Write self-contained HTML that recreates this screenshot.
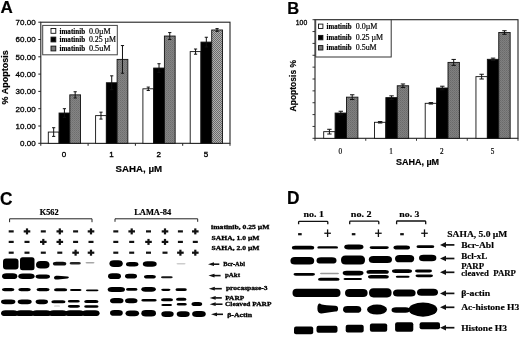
<!DOCTYPE html>
<html><head><meta charset="utf-8"><style>
html,body{margin:0;padding:0;background:#fff;}
svg{display:block;filter:blur(0.3px);}
text{stroke:#000;stroke-width:0.18px;paint-order:stroke;}
</style></head><body>
<svg width="520" height="337" viewBox="0 0 520 337">
<defs><filter id="b3" filterUnits="userSpaceOnUse" x="0" y="0" width="520" height="337"><feGaussianBlur stdDeviation="0.3"/></filter><filter id="b4" filterUnits="userSpaceOnUse" x="0" y="0" width="520" height="337"><feGaussianBlur stdDeviation="0.4"/></filter><filter id="b5" filterUnits="userSpaceOnUse" x="0" y="0" width="520" height="337"><feGaussianBlur stdDeviation="0.5"/></filter><filter id="b6" filterUnits="userSpaceOnUse" x="0" y="0" width="520" height="337"><feGaussianBlur stdDeviation="0.6"/></filter><filter id="b7" filterUnits="userSpaceOnUse" x="0" y="0" width="520" height="337"><feGaussianBlur stdDeviation="0.7"/></filter><filter id="b8" filterUnits="userSpaceOnUse" x="0" y="0" width="520" height="337"><feGaussianBlur stdDeviation="0.8"/></filter><filter id="b10" filterUnits="userSpaceOnUse" x="0" y="0" width="520" height="337"><feGaussianBlur stdDeviation="1.0"/></filter>
<pattern id="gA" width="2" height="2" patternUnits="userSpaceOnUse"><rect width="2" height="2" fill="#848484"/><rect width="1" height="1" fill="#6e6e6e"/><rect x="1" y="1" width="1" height="1" fill="#777"/></pattern>
<pattern id="gA2" width="2" height="2" patternUnits="userSpaceOnUse"><rect width="2" height="2" fill="#b0b0b0"/><rect width="1" height="1" fill="#6a6a6a"/><rect x="1" y="1" width="1" height="1" fill="#6a6a6a"/></pattern>
<pattern id="gB" width="2" height="2" patternUnits="userSpaceOnUse"><rect width="2" height="2" fill="#808080"/><rect width="1" height="1" fill="#6a6a6a"/><rect x="1" y="1" width="1" height="1" fill="#737373"/></pattern>
</defs>
<rect width="520" height="337" fill="#fff"/>
<text x="0.4" y="13.3" font-family='"Liberation Sans", sans-serif' font-size="17" font-weight="bold" text-anchor="start" >A</text>
<rect x="40.8" y="22.2" width="189.2" height="121.10000000000001" fill="none" stroke="#222" stroke-width="1.1"/>
<line x1="38.3" y1="143.30" x2="40.8" y2="143.30" stroke="#222" stroke-width="1"/>
<text x="35.6" y="146.20000000000002" font-family='"Liberation Sans", sans-serif' font-size="8" font-weight="normal" text-anchor="end" style="stroke-width:0.3px">0.00</text>
<line x1="38.3" y1="126.00" x2="40.8" y2="126.00" stroke="#222" stroke-width="1"/>
<text x="35.6" y="128.9" font-family='"Liberation Sans", sans-serif' font-size="8" font-weight="normal" text-anchor="end" style="stroke-width:0.3px">10.00</text>
<line x1="38.3" y1="108.70" x2="40.8" y2="108.70" stroke="#222" stroke-width="1"/>
<text x="35.6" y="111.60000000000002" font-family='"Liberation Sans", sans-serif' font-size="8" font-weight="normal" text-anchor="end" style="stroke-width:0.3px">20.00</text>
<line x1="38.3" y1="91.40" x2="40.8" y2="91.40" stroke="#222" stroke-width="1"/>
<text x="35.6" y="94.30000000000001" font-family='"Liberation Sans", sans-serif' font-size="8" font-weight="normal" text-anchor="end" style="stroke-width:0.3px">30.00</text>
<line x1="38.3" y1="74.10" x2="40.8" y2="74.10" stroke="#222" stroke-width="1"/>
<text x="35.6" y="77.00000000000001" font-family='"Liberation Sans", sans-serif' font-size="8" font-weight="normal" text-anchor="end" style="stroke-width:0.3px">40.00</text>
<line x1="38.3" y1="56.80" x2="40.8" y2="56.80" stroke="#222" stroke-width="1"/>
<text x="35.6" y="59.699999999999996" font-family='"Liberation Sans", sans-serif' font-size="8" font-weight="normal" text-anchor="end" style="stroke-width:0.3px">50.00</text>
<line x1="38.3" y1="39.50" x2="40.8" y2="39.50" stroke="#222" stroke-width="1"/>
<text x="35.6" y="42.4" font-family='"Liberation Sans", sans-serif' font-size="8" font-weight="normal" text-anchor="end" style="stroke-width:0.3px">60.00</text>
<line x1="38.3" y1="22.20" x2="40.8" y2="22.20" stroke="#222" stroke-width="1"/>
<text x="35.6" y="25.1" font-family='"Liberation Sans", sans-serif' font-size="8" font-weight="normal" text-anchor="end" style="stroke-width:0.3px">70.00</text>
<line x1="40.8" y1="143.3" x2="40.8" y2="145.8" stroke="#222" stroke-width="1"/>
<line x1="88.1" y1="143.3" x2="88.1" y2="145.8" stroke="#222" stroke-width="1"/>
<line x1="135.39999999999998" y1="143.3" x2="135.39999999999998" y2="145.8" stroke="#222" stroke-width="1"/>
<line x1="182.7" y1="143.3" x2="182.7" y2="145.8" stroke="#222" stroke-width="1"/>
<line x1="230.0" y1="143.3" x2="230.0" y2="145.8" stroke="#222" stroke-width="1"/>
<rect x="48.30" y="132.06" width="10.75" height="11.25" fill="#fff" stroke="#111" stroke-width="0.9"/>
<path d="M53.67,127.73V136.38M52.07,127.73h3.2M52.07,136.38h3.2" stroke="#111" stroke-width="1" fill="none"/>
<rect x="59.05" y="113.03" width="10.75" height="30.28" fill="#000" stroke="#111" stroke-width="0.9"/>
<path d="M64.42,108.70V117.35M62.82,108.70h3.2M62.82,117.35h3.2" stroke="#111" stroke-width="1" fill="none"/>
<rect x="69.80" y="94.86" width="10.75" height="48.44" fill="url(#gA)" stroke="#111" stroke-width="0.9"/>
<path d="M75.17,91.75V97.97M73.58,91.75h3.2M73.58,97.97h3.2" stroke="#111" stroke-width="1" fill="none"/>
<rect x="95.60" y="115.62" width="10.75" height="27.68" fill="#fff" stroke="#111" stroke-width="0.9"/>
<path d="M100.97,112.16V119.08M99.38,112.16h3.2M99.38,119.08h3.2" stroke="#111" stroke-width="1" fill="none"/>
<rect x="106.35" y="82.75" width="10.75" height="60.55" fill="#000" stroke="#111" stroke-width="0.9"/>
<path d="M111.72,75.83V89.67M110.12,75.83h3.2M110.12,89.67h3.2" stroke="#111" stroke-width="1" fill="none"/>
<rect x="117.10" y="59.39" width="10.75" height="83.91" fill="url(#gA)" stroke="#111" stroke-width="0.9"/>
<path d="M122.47,45.56V73.23M120.88,45.56h3.2M120.88,73.23h3.2" stroke="#111" stroke-width="1" fill="none"/>
<rect x="142.90" y="88.81" width="10.75" height="54.50" fill="#fff" stroke="#111" stroke-width="0.9"/>
<path d="M148.27,87.08V90.53M146.67,87.08h3.2M146.67,90.53h3.2" stroke="#111" stroke-width="1" fill="none"/>
<rect x="153.65" y="68.05" width="10.75" height="75.26" fill="#000" stroke="#111" stroke-width="0.9"/>
<path d="M159.02,63.72V72.37M157.42,63.72h3.2M157.42,72.37h3.2" stroke="#111" stroke-width="1" fill="none"/>
<rect x="164.40" y="36.04" width="10.75" height="107.26" fill="url(#gA)" stroke="#111" stroke-width="0.9"/>
<path d="M169.77,32.58V39.50M168.17,32.58h3.2M168.17,39.50h3.2" stroke="#111" stroke-width="1" fill="none"/>
<rect x="190.20" y="51.61" width="10.75" height="91.69" fill="#fff" stroke="#111" stroke-width="0.9"/>
<path d="M195.57,49.02V54.20M193.97,49.02h3.2M193.97,54.20h3.2" stroke="#111" stroke-width="1" fill="none"/>
<rect x="200.95" y="42.09" width="10.75" height="101.21" fill="#000" stroke="#111" stroke-width="0.9"/>
<path d="M206.32,37.25V46.94M204.72,37.25h3.2M204.72,46.94h3.2" stroke="#111" stroke-width="1" fill="none"/>
<rect x="211.70" y="29.98" width="10.75" height="113.32" fill="url(#gA2)" stroke="#111" stroke-width="0.9"/>
<path d="M217.07,28.60V31.37M215.47,28.60h3.2M215.47,31.37h3.2" stroke="#111" stroke-width="1" fill="none"/>
<rect x="42.7" y="25.4" width="74.6" height="29.4" fill="#fff" stroke="#444" stroke-width="1"/>
<rect x="51" y="28.5" width="4.8" height="4.8" fill="#fff" stroke="#111" stroke-width="0.9"/>
<text x="59.5" y="33.6" font-family='"Liberation Serif", serif' font-size="7.6" font-weight="bold" text-anchor="start"  textLength="25.6" lengthAdjust="spacingAndGlyphs">imatinib</text>
<text x="88.9" y="33.699999999999996" font-family='"Liberation Serif", serif' font-size="8.0" font-weight="normal" text-anchor="start"  textLength="21.8" lengthAdjust="spacingAndGlyphs">0.0&#181;M</text>
<rect x="51" y="37.1" width="4.8" height="4.8" fill="#000" stroke="#111" stroke-width="0.9"/>
<text x="59.5" y="42.2" font-family='"Liberation Serif", serif' font-size="7.6" font-weight="bold" text-anchor="start"  textLength="25.6" lengthAdjust="spacingAndGlyphs">imatinib</text>
<text x="88.9" y="42.3" font-family='"Liberation Serif", serif' font-size="8.0" font-weight="normal" text-anchor="start"  textLength="27.2" lengthAdjust="spacingAndGlyphs">0.25 &#181;M</text>
<rect x="51" y="46.1" width="4.8" height="4.8" fill="#777" stroke="#111" stroke-width="0.9"/>
<text x="59.5" y="51.2" font-family='"Liberation Serif", serif' font-size="7.6" font-weight="bold" text-anchor="start"  textLength="25.6" lengthAdjust="spacingAndGlyphs">imatinib</text>
<text x="88.9" y="51.3" font-family='"Liberation Serif", serif' font-size="8.0" font-weight="normal" text-anchor="start"  textLength="21.8" lengthAdjust="spacingAndGlyphs">0.5uM</text>
<text x="64.1" y="157" font-family='"Liberation Sans", sans-serif' font-size="8" font-weight="normal" text-anchor="middle" style="stroke-width:0.35px">0</text>
<text x="111.39999999999999" y="157" font-family='"Liberation Sans", sans-serif' font-size="8" font-weight="normal" text-anchor="middle" style="stroke-width:0.35px">1</text>
<text x="158.7" y="157" font-family='"Liberation Sans", sans-serif' font-size="8" font-weight="normal" text-anchor="middle" style="stroke-width:0.35px">2</text>
<text x="206.0" y="157" font-family='"Liberation Sans", sans-serif' font-size="8" font-weight="normal" text-anchor="middle" style="stroke-width:0.35px">5</text>
<text x="138.8" y="171.8" font-family='"Liberation Sans", sans-serif' font-size="9.7" font-weight="bold" text-anchor="middle" >SAHA, &#181;M</text>
<text transform="translate(8.3,77.4) rotate(-90)" font-family='"Liberation Sans", sans-serif' font-size="9" font-weight="bold" text-anchor="middle">% Apoptosis</text>
<text x="287.2" y="13.6" font-family='"Liberation Sans", sans-serif' font-size="16.5" font-weight="bold" text-anchor="start" >B</text>
<rect x="315" y="19.7" width="203" height="118.60000000000001" fill="none" stroke="#222" stroke-width="1.1"/>
<line x1="312.5" y1="138.30" x2="315" y2="138.30" stroke="#222" stroke-width="0.9"/>
<line x1="312.5" y1="126.44" x2="315" y2="126.44" stroke="#222" stroke-width="0.9"/>
<line x1="312.5" y1="114.58" x2="315" y2="114.58" stroke="#222" stroke-width="0.9"/>
<line x1="312.5" y1="102.72" x2="315" y2="102.72" stroke="#222" stroke-width="0.9"/>
<line x1="312.5" y1="90.86" x2="315" y2="90.86" stroke="#222" stroke-width="0.9"/>
<line x1="312.5" y1="79.00" x2="315" y2="79.00" stroke="#222" stroke-width="0.9"/>
<line x1="312.5" y1="67.14" x2="315" y2="67.14" stroke="#222" stroke-width="0.9"/>
<line x1="312.5" y1="55.28" x2="315" y2="55.28" stroke="#222" stroke-width="0.9"/>
<line x1="312.5" y1="43.42" x2="315" y2="43.42" stroke="#222" stroke-width="0.9"/>
<line x1="312.5" y1="31.56" x2="315" y2="31.56" stroke="#222" stroke-width="0.9"/>
<line x1="312.5" y1="19.70" x2="315" y2="19.70" stroke="#222" stroke-width="0.9"/>
<text x="307.2" y="24.8" font-family='"Liberation Sans", sans-serif' font-size="6.8" font-weight="normal" text-anchor="end" style="stroke-width:0.3px">100</text>
<line x1="315.00" y1="138.3" x2="315.00" y2="140.8" stroke="#222" stroke-width="0.9"/>
<line x1="365.75" y1="138.3" x2="365.75" y2="140.8" stroke="#222" stroke-width="0.9"/>
<line x1="416.50" y1="138.3" x2="416.50" y2="140.8" stroke="#222" stroke-width="0.9"/>
<line x1="467.25" y1="138.3" x2="467.25" y2="140.8" stroke="#222" stroke-width="0.9"/>
<line x1="518.00" y1="138.3" x2="518.00" y2="140.8" stroke="#222" stroke-width="0.9"/>
<rect x="323.70" y="131.66" width="11.4" height="6.64" fill="#fff" stroke="#111" stroke-width="0.9"/>
<path d="M329.40,129.29V134.03M327.20,129.29h4.4M327.20,134.03h4.4" stroke="#111" stroke-width="1" fill="none"/>
<rect x="335.10" y="113.04" width="11.4" height="25.26" fill="#000" stroke="#111" stroke-width="0.9"/>
<path d="M340.80,111.26V114.82M338.60,111.26h4.4M338.60,114.82h4.4" stroke="#111" stroke-width="1" fill="none"/>
<rect x="346.50" y="97.15" width="11.4" height="41.15" fill="url(#gB)" stroke="#111" stroke-width="0.9"/>
<path d="M352.20,94.77V99.52M350.00,94.77h4.4M350.00,99.52h4.4" stroke="#111" stroke-width="1" fill="none"/>
<rect x="374.45" y="122.29" width="11.4" height="16.01" fill="#fff" stroke="#111" stroke-width="0.9"/>
<path d="M380.15,121.58V123.00M377.95,121.58h4.4M377.95,123.00h4.4" stroke="#111" stroke-width="1" fill="none"/>
<rect x="385.85" y="97.62" width="11.4" height="40.68" fill="#000" stroke="#111" stroke-width="0.9"/>
<path d="M391.55,95.84V99.40M389.35,95.84h4.4M389.35,99.40h4.4" stroke="#111" stroke-width="1" fill="none"/>
<rect x="397.25" y="85.76" width="11.4" height="52.54" fill="url(#gB)" stroke="#111" stroke-width="0.9"/>
<path d="M402.95,83.98V87.54M400.75,83.98h4.4M400.75,87.54h4.4" stroke="#111" stroke-width="1" fill="none"/>
<rect x="425.20" y="103.31" width="11.4" height="34.99" fill="#fff" stroke="#111" stroke-width="0.9"/>
<path d="M430.90,102.60V104.02M428.70,102.60h4.4M428.70,104.02h4.4" stroke="#111" stroke-width="1" fill="none"/>
<rect x="436.60" y="88.01" width="11.4" height="50.29" fill="#000" stroke="#111" stroke-width="0.9"/>
<path d="M442.30,86.23V89.79M440.10,86.23h4.4M440.10,89.79h4.4" stroke="#111" stroke-width="1" fill="none"/>
<rect x="448.00" y="62.40" width="11.4" height="75.90" fill="url(#gB)" stroke="#111" stroke-width="0.9"/>
<path d="M453.70,59.43V65.36M451.50,59.43h4.4M451.50,65.36h4.4" stroke="#111" stroke-width="1" fill="none"/>
<rect x="475.95" y="76.63" width="11.4" height="61.67" fill="#fff" stroke="#111" stroke-width="0.9"/>
<path d="M481.65,74.26V79.00M479.45,74.26h4.4M479.45,79.00h4.4" stroke="#111" stroke-width="1" fill="none"/>
<rect x="487.35" y="59.31" width="11.4" height="78.99" fill="#000" stroke="#111" stroke-width="0.9"/>
<path d="M493.05,58.13V60.50M490.85,58.13h4.4M490.85,60.50h4.4" stroke="#111" stroke-width="1" fill="none"/>
<rect x="498.75" y="32.51" width="11.4" height="105.79" fill="url(#gB)" stroke="#111" stroke-width="0.9"/>
<path d="M504.45,30.73V34.29M502.25,30.73h4.4M502.25,34.29h4.4" stroke="#111" stroke-width="1" fill="none"/>
<rect x="315.7" y="19.8" width="75.5" height="37.2" fill="#fff" stroke="#333" stroke-width="1"/>
<rect x="318.5" y="24.1" width="4.4" height="4.4" fill="#fff" stroke="#111" stroke-width="0.9"/>
<text x="326.6" y="28.8" font-family='"Liberation Serif", serif' font-size="7.4" font-weight="bold" text-anchor="start"  textLength="24.9" lengthAdjust="spacingAndGlyphs">imatinib</text>
<text x="355.7" y="28.8" font-family='"Liberation Serif", serif' font-size="7.8" font-weight="normal" text-anchor="start"  textLength="21.7" lengthAdjust="spacingAndGlyphs">0.0&#181;M</text>
<rect x="318.5" y="35.4" width="4.4" height="4.4" fill="#000" stroke="#111" stroke-width="0.9"/>
<text x="326.6" y="40.1" font-family='"Liberation Serif", serif' font-size="7.4" font-weight="bold" text-anchor="start"  textLength="24.9" lengthAdjust="spacingAndGlyphs">imatinib</text>
<text x="355.7" y="40.1" font-family='"Liberation Serif", serif' font-size="7.8" font-weight="normal" text-anchor="start"  textLength="27.5" lengthAdjust="spacingAndGlyphs">0.25 &#181;M</text>
<rect x="318.5" y="45.599999999999994" width="4.4" height="4.4" fill="#777" stroke="#111" stroke-width="0.9"/>
<text x="326.6" y="50.3" font-family='"Liberation Serif", serif' font-size="7.4" font-weight="bold" text-anchor="start"  textLength="24.9" lengthAdjust="spacingAndGlyphs">imatinib</text>
<text x="355.7" y="50.3" font-family='"Liberation Serif", serif' font-size="7.8" font-weight="normal" text-anchor="start"  textLength="21.0" lengthAdjust="spacingAndGlyphs">0.5uM</text>
<text x="340.375" y="153.5" font-family='"Liberation Serif", serif' font-size="7.2" font-weight="normal" text-anchor="middle" >0</text>
<text x="391.125" y="153.5" font-family='"Liberation Serif", serif' font-size="7.2" font-weight="normal" text-anchor="middle" >1</text>
<text x="441.875" y="153.5" font-family='"Liberation Serif", serif' font-size="7.2" font-weight="normal" text-anchor="middle" >2</text>
<text x="492.625" y="153.5" font-family='"Liberation Serif", serif' font-size="7.2" font-weight="normal" text-anchor="middle" >5</text>
<text x="417.5" y="164.8" font-family='"Liberation Sans", sans-serif' font-size="9" font-weight="bold" text-anchor="middle" >SAHA, &#181;M</text>
<text transform="translate(296.2,85.7) rotate(-90)" font-family='"Liberation Sans", sans-serif' font-size="8.5" font-weight="bold" text-anchor="middle">Apoptosis %</text>
<text transform="translate(-0.1,205.4) scale(0.93,1)" font-family='"Liberation Sans", sans-serif' font-size="18.6" font-weight="bold">C</text>
<text x="39.8" y="214.5" font-family='"Liberation Serif", serif' font-size="7.2" font-weight="bold" text-anchor="start"  textLength="18.8" lengthAdjust="spacingAndGlyphs">K562</text>
<text x="134.2" y="214.5" font-family='"Liberation Serif", serif' font-size="7.2" font-weight="bold" text-anchor="start"  textLength="37" lengthAdjust="spacingAndGlyphs">LAMA-84</text>
<path d="M9.6,222.2V218.8H92V222.2M115,221.8V218.8H197.7V221.8" stroke="#222" stroke-width="1" fill="none"/>
<rect x="8.70" y="230.30" width="5.0" height="2.2" fill="#111"/>
<rect x="113.30" y="230.30" width="5.0" height="2.2" fill="#111"/>
<rect x="23.70" y="230.30" width="6.6" height="2.2" fill="#111"/>
<rect x="25.90" y="228.40" width="2.2" height="6.0" fill="#111"/>
<rect x="128.40" y="230.30" width="6.6" height="2.2" fill="#111"/>
<rect x="130.60" y="228.40" width="2.2" height="6.0" fill="#111"/>
<rect x="40.80" y="230.30" width="5.0" height="2.2" fill="#111"/>
<rect x="146.00" y="230.30" width="5.0" height="2.2" fill="#111"/>
<rect x="56.50" y="230.30" width="6.6" height="2.2" fill="#111"/>
<rect x="58.70" y="228.40" width="2.2" height="6.0" fill="#111"/>
<rect x="161.70" y="230.30" width="6.6" height="2.2" fill="#111"/>
<rect x="163.90" y="228.40" width="2.2" height="6.0" fill="#111"/>
<rect x="73.10" y="230.30" width="5.0" height="2.2" fill="#111"/>
<rect x="177.90" y="230.30" width="5.0" height="2.2" fill="#111"/>
<rect x="87.70" y="230.30" width="6.6" height="2.2" fill="#111"/>
<rect x="89.90" y="228.40" width="2.2" height="6.0" fill="#111"/>
<rect x="192.00" y="230.30" width="6.6" height="2.2" fill="#111"/>
<rect x="194.20" y="228.40" width="2.2" height="6.0" fill="#111"/>
<rect x="8.70" y="240.80" width="5.0" height="2.2" fill="#111"/>
<rect x="113.30" y="240.80" width="5.0" height="2.2" fill="#111"/>
<rect x="24.50" y="240.80" width="5.0" height="2.2" fill="#111"/>
<rect x="129.20" y="240.80" width="5.0" height="2.2" fill="#111"/>
<rect x="40.00" y="240.80" width="6.6" height="2.2" fill="#111"/>
<rect x="42.20" y="238.90" width="2.2" height="6.0" fill="#111"/>
<rect x="145.20" y="240.80" width="6.6" height="2.2" fill="#111"/>
<rect x="147.40" y="238.90" width="2.2" height="6.0" fill="#111"/>
<rect x="56.50" y="240.80" width="6.6" height="2.2" fill="#111"/>
<rect x="58.70" y="238.90" width="2.2" height="6.0" fill="#111"/>
<rect x="161.70" y="240.80" width="6.6" height="2.2" fill="#111"/>
<rect x="163.90" y="238.90" width="2.2" height="6.0" fill="#111"/>
<rect x="73.10" y="240.80" width="5.0" height="2.2" fill="#111"/>
<rect x="177.90" y="240.80" width="5.0" height="2.2" fill="#111"/>
<rect x="88.50" y="240.80" width="5.0" height="2.2" fill="#111"/>
<rect x="192.80" y="240.80" width="5.0" height="2.2" fill="#111"/>
<rect x="8.70" y="251.60" width="5.0" height="2.2" fill="#111"/>
<rect x="113.30" y="251.60" width="5.0" height="2.2" fill="#111"/>
<rect x="24.50" y="251.60" width="5.0" height="2.2" fill="#111"/>
<rect x="129.20" y="251.60" width="5.0" height="2.2" fill="#111"/>
<rect x="40.80" y="251.60" width="5.0" height="2.2" fill="#111"/>
<rect x="146.00" y="251.60" width="5.0" height="2.2" fill="#111"/>
<rect x="57.30" y="251.60" width="5.0" height="2.2" fill="#111"/>
<rect x="162.50" y="251.60" width="5.0" height="2.2" fill="#111"/>
<rect x="72.30" y="251.60" width="6.6" height="2.2" fill="#111"/>
<rect x="74.50" y="249.70" width="2.2" height="6.0" fill="#111"/>
<rect x="177.10" y="251.60" width="6.6" height="2.2" fill="#111"/>
<rect x="179.30" y="249.70" width="2.2" height="6.0" fill="#111"/>
<rect x="87.70" y="251.60" width="6.6" height="2.2" fill="#111"/>
<rect x="89.90" y="249.70" width="2.2" height="6.0" fill="#111"/>
<rect x="192.00" y="251.60" width="6.6" height="2.2" fill="#111"/>
<rect x="194.20" y="249.70" width="2.2" height="6.0" fill="#111"/>
<text x="211.1" y="229.3" font-family='"Liberation Serif", serif' font-size="6.7" font-weight="bold" text-anchor="start" style="stroke-width:0.3px" textLength="58.4" lengthAdjust="spacingAndGlyphs">imatinib, 0.25 &#181;M</text>
<text x="211.5" y="239.8" font-family='"Liberation Serif", serif' font-size="6.7" font-weight="bold" text-anchor="start" style="stroke-width:0.3px" textLength="48" lengthAdjust="spacingAndGlyphs">SAHA, 1.0 &#181;M</text>
<text x="211.5" y="250.4" font-family='"Liberation Serif", serif' font-size="6.7" font-weight="bold" text-anchor="start" style="stroke-width:0.3px" textLength="48" lengthAdjust="spacingAndGlyphs">SAHA, 2.0 &#181;M</text>
<path d="M208,264.2l6,-1.9v3.8z" fill="#111"/>
<line x1="213.5" y1="264.2" x2="219.3" y2="264.2" stroke="#111" stroke-width="1.6"/>
<text x="223.2" y="266.4" font-family='"Liberation Serif", serif' font-size="6.5" font-weight="bold" text-anchor="start" style="stroke-width:0.3px" textLength="21.8" lengthAdjust="spacingAndGlyphs">Bcr-Abl</text>
<path d="M208.5,275.6l6,-1.9v3.8z" fill="#111"/>
<line x1="214.0" y1="275.6" x2="220.6" y2="275.6" stroke="#111" stroke-width="1.6"/>
<text x="224.9" y="277.4" font-family='"Liberation Serif", serif' font-size="6.5" font-weight="bold" text-anchor="start" style="stroke-width:0.3px" textLength="15.1" lengthAdjust="spacingAndGlyphs">pAkt</text>
<path d="M208.8,288.7l6,-1.9v3.8z" fill="#111"/>
<line x1="214.3" y1="288.7" x2="221.8" y2="288.7" stroke="#111" stroke-width="1.6"/>
<text x="225.9" y="290.4" font-family='"Liberation Serif", serif' font-size="6.5" font-weight="bold" text-anchor="start" style="stroke-width:0.3px" textLength="41.7" lengthAdjust="spacingAndGlyphs">procaspase-3</text>
<path d="M209.7,297.9l6,-1.9v3.8z" fill="#111"/>
<line x1="215.2" y1="297.9" x2="221.8" y2="297.9" stroke="#111" stroke-width="1.6"/>
<text x="225.2" y="299.7" font-family='"Liberation Serif", serif' font-size="6.5" font-weight="bold" text-anchor="start" style="stroke-width:0.3px" textLength="19" lengthAdjust="spacingAndGlyphs">PARP</text>
<path d="M209.7,304.2l6,-1.9v3.8z" fill="#111"/>
<line x1="215.2" y1="304.2" x2="222.5" y2="304.2" stroke="#111" stroke-width="1.6"/>
<text x="225.0" y="306.2" font-family='"Liberation Serif", serif' font-size="6.5" font-weight="bold" text-anchor="start" style="stroke-width:0.3px" textLength="46.4" lengthAdjust="spacingAndGlyphs">Cleaved PARP</text>
<path d="M211,314.3l6,-1.9v3.8z" fill="#111"/>
<line x1="216.5" y1="314.3" x2="223" y2="314.3" stroke="#111" stroke-width="1.6"/>
<text x="227.2" y="317.1" font-family='"Liberation Serif", serif' font-size="6.5" font-weight="bold" text-anchor="start" style="stroke-width:0.3px" textLength="24.9" lengthAdjust="spacingAndGlyphs">&#946;-Actin</text>
<text transform="translate(286.9,203.6) scale(0.93,1)" font-family='"Liberation Sans", sans-serif' font-size="18.6" font-weight="bold">D</text>
<text x="303.5" y="216.9" font-family='"Liberation Serif", serif' font-size="9.0" font-weight="bold" text-anchor="start"  textLength="20.5" lengthAdjust="spacingAndGlyphs">no. 1</text>
<text x="350.8" y="216.9" font-family='"Liberation Serif", serif' font-size="9.0" font-weight="bold" text-anchor="start"  textLength="20.8" lengthAdjust="spacingAndGlyphs">no. 2</text>
<text x="399.3" y="216.9" font-family='"Liberation Serif", serif' font-size="9.0" font-weight="bold" text-anchor="start"  textLength="20.2" lengthAdjust="spacingAndGlyphs">no. 3</text>
<path d="M298.6,224.2V222A0.8,0.8 0 0 1 299.4,221.3H327V221.3A0.8,0.8 0 0 1 327.8,222V224.2M349.7,224.2V222A0.8,0.8 0 0 1 350.5,221.2H378V221.2A0.8,0.8 0 0 1 378.8,222V224.2M396.6,224.2V221.8A0.8,0.8 0 0 1 397.4,221H425V221A0.8,0.8 0 0 1 425.7,221.8V224.2" stroke="#111" stroke-width="1.3" fill="none"/>
<rect x="298.10" y="233.1" width="3.6" height="2.2" fill="#111"/>
<rect x="324.30" y="232.6" width="6.6" height="1.3" fill="#111"/><rect x="326.95" y="229.4" width="1.3" height="7.6" fill="#111"/>
<rect x="351.80" y="233.1" width="3.6" height="2.2" fill="#111"/>
<rect x="375.10" y="232.6" width="6.6" height="1.3" fill="#111"/><rect x="377.75" y="229.4" width="1.3" height="7.6" fill="#111"/>
<rect x="400.20" y="233.1" width="3.6" height="2.2" fill="#111"/>
<rect x="421.20" y="232.6" width="6.6" height="1.3" fill="#111"/><rect x="423.85" y="229.4" width="1.3" height="7.6" fill="#111"/>
<text x="447.3" y="237.2" font-family='"Liberation Serif", serif' font-size="9.2" font-weight="bold" text-anchor="start"  textLength="60" lengthAdjust="spacingAndGlyphs">SAHA, 5.0 &#181;M</text>
<path d="M440,244.9l6,-2.8v5.6z" fill="#111"/>
<line x1="445.5" y1="244.9" x2="454.4" y2="244.9" stroke="#111" stroke-width="1.7"/>
<path d="M440,258.5l6,-2.8v5.6z" fill="#111"/>
<line x1="445.5" y1="258.5" x2="454.4" y2="258.5" stroke="#111" stroke-width="1.7"/>
<path d="M440,272.3l6,-2.8v5.6z" fill="#111"/>
<line x1="445.5" y1="272.3" x2="454.4" y2="272.3" stroke="#111" stroke-width="1.7"/>
<path d="M440,293.4l6,-2.8v5.6z" fill="#111"/>
<line x1="445.5" y1="293.4" x2="454.4" y2="293.4" stroke="#111" stroke-width="1.7"/>
<path d="M440,307.3l6,-2.8v5.6z" fill="#111"/>
<line x1="445.5" y1="307.3" x2="454.4" y2="307.3" stroke="#111" stroke-width="1.7"/>
<path d="M440,327.7l6,-2.8v5.6z" fill="#111"/>
<line x1="445.5" y1="327.7" x2="454.4" y2="327.7" stroke="#111" stroke-width="1.7"/>
<text x="461.2" y="247.9" font-family='"Liberation Serif", serif' font-size="9.2" font-weight="bold" text-anchor="start"  textLength="32.7" lengthAdjust="spacingAndGlyphs">Bcr-Abl</text>
<text x="461.2" y="259.3" font-family='"Liberation Serif", serif' font-size="9.2" font-weight="bold" text-anchor="start"  textLength="26.1" lengthAdjust="spacingAndGlyphs">Bcl-xL</text>
<text x="461.2" y="269.4" font-family='"Liberation Serif", serif' font-size="9.2" font-weight="bold" text-anchor="start"  textLength="22.9" lengthAdjust="spacingAndGlyphs">PARP</text>
<text x="461.2" y="275.9" font-family='"Liberation Serif", serif' font-size="9.2" font-weight="bold" text-anchor="start"  textLength="54.7" lengthAdjust="spacingAndGlyphs">cleaved&#160; PARP</text>
<text x="461.2" y="295.9" font-family='"Liberation Serif", serif' font-size="9.2" font-weight="bold" text-anchor="start"  textLength="29.1" lengthAdjust="spacingAndGlyphs">&#946;-actin</text>
<text x="461.2" y="310.1" font-family='"Liberation Serif", serif' font-size="9.2" font-weight="bold" text-anchor="start"  textLength="58" lengthAdjust="spacingAndGlyphs">Ac-histone H3</text>
<text x="461.2" y="330.7" font-family='"Liberation Serif", serif' font-size="9.2" font-weight="bold" text-anchor="start"  textLength="45.7" lengthAdjust="spacingAndGlyphs">Histone H3</text>
<g>
<rect x="3.0" y="258.6" width="15.5" height="11.0" rx="3.0" ry="3.0" fill="#000" fill-opacity="1.0" filter="url(#b7)"/>
<rect x="20.0" y="257.2" width="14.5" height="13.0" rx="2.5" ry="2.5" fill="#000" fill-opacity="1.0" filter="url(#b7)"/>
<path d="M36.00,264.80Q36.00,261.00 40.50,261.00H45.00Q49.50,261.00 49.50,264.80Q49.50,268.60 45.00,268.60H40.50Q36.00,268.60 36.00,264.80Z" fill="#000" fill-opacity="1.0" filter="url(#b7)"/>
<path d="M52.90,263.65Q52.90,261.70 56.22,261.70H62.98Q66.30,261.70 66.30,263.65Q66.30,265.60 62.98,265.60H56.22Q52.90,265.60 52.90,263.65Z" fill="#000" fill-opacity="0.95" filter="url(#b7)"/>
<path d="M69.60,263.20Q69.60,262.00 71.64,262.00H78.76Q80.80,262.00 80.80,263.20Q80.80,264.40 78.76,264.40H71.64Q69.60,264.40 69.60,263.20Z" fill="#000" fill-opacity="0.85" filter="url(#b7)"/>
<path d="M85.50,262.80Q85.50,262.00 86.86,262.00H93.14Q94.50,262.00 94.50,262.80Q94.50,263.60 93.14,263.60H86.86Q85.50,263.60 85.50,262.80Z" fill="#000" fill-opacity="0.35" filter="url(#b7)"/>
<path d="M2.00,276.15Q2.00,273.30 6.50,273.30H12.80Q17.30,273.30 17.30,276.15Q17.30,279.00 12.80,279.00H6.50Q2.00,279.00 2.00,276.15Z" fill="#000" fill-opacity="1.0" filter="url(#b7)"/>
<path d="M18.30,276.25Q18.30,273.50 22.80,273.50H30.10Q34.60,273.50 34.60,276.25Q34.60,279.00 30.10,279.00H22.80Q18.30,279.00 18.30,276.25Z" fill="#000" fill-opacity="1.0" filter="url(#b7)"/>
<path d="M35.60,276.55Q35.60,274.40 39.26,274.40H46.34Q50.00,274.40 50.00,276.55Q50.00,278.70 46.34,278.70H39.26Q35.60,278.70 35.60,276.55Z" fill="#000" fill-opacity="1.0" filter="url(#b7)"/>
<path d="M54,277.7C54,275.8 56,275.6 58,275.7L67.5,276.6C69.3,276.8 69.3,278.3 67.5,278.5L58,279.4C55.8,279.6 54,279.4 54,277.7Z" fill="#000" filter="url(#b6)"/>
<path d="M1.90,289.60Q1.90,287.90 4.79,287.90H11.51Q14.40,287.90 14.40,289.60Q14.40,291.30 11.51,291.30H4.79Q1.90,291.30 1.90,289.60Z" fill="#000" fill-opacity="1.0" filter="url(#b7)"/>
<path d="M18.30,289.60Q18.30,287.90 21.19,287.90H27.91Q30.80,287.90 30.80,289.60Q30.80,291.30 27.91,291.30H21.19Q18.30,291.30 18.30,289.60Z" fill="#000" fill-opacity="1.0" filter="url(#b7)"/>
<path d="M36.50,289.60Q36.50,287.90 39.39,287.90H46.71Q49.60,287.90 49.60,289.60Q49.60,291.30 46.71,291.30H39.39Q36.50,291.30 36.50,289.60Z" fill="#000" fill-opacity="1.0" filter="url(#b7)"/>
<path d="M54.00,289.80Q54.00,288.30 56.55,288.30H64.65Q67.20,288.30 67.20,289.80Q67.20,291.30 64.65,291.30H56.55Q54.00,291.30 54.00,289.80Z" fill="#000" fill-opacity="1.0" filter="url(#b7)"/>
<path d="M70.00,289.95Q70.00,288.90 71.79,288.90H79.71Q81.50,288.90 81.50,289.95Q81.50,291.00 79.71,291.00H71.79Q70.00,291.00 70.00,289.95Z" fill="#000" fill-opacity="1.0" filter="url(#b7)"/>
<path d="M85.90,290.35Q85.90,289.40 87.52,289.40H96.88Q98.50,289.40 98.50,290.35Q98.50,291.30 96.88,291.30H87.52Q85.90,291.30 85.90,290.35Z" fill="#000" fill-opacity="1.0" filter="url(#b7)"/>
<path d="M1.00,301.80Q1.00,299.40 5.08,299.40H11.32Q15.40,299.40 15.40,301.80Q15.40,304.20 11.32,304.20H5.08Q1.00,304.20 1.00,301.80Z" fill="#000" fill-opacity="1.0" filter="url(#b7)"/>
<path d="M17.70,301.80Q17.70,299.40 21.78,299.40H27.62Q31.70,299.40 31.70,301.80Q31.70,304.20 27.62,304.20H21.78Q17.70,304.20 17.70,301.80Z" fill="#000" fill-opacity="1.0" filter="url(#b7)"/>
<path d="M35.60,301.80Q35.60,299.40 39.68,299.40H43.92Q48.00,299.40 48.00,301.80Q48.00,304.20 43.92,304.20H39.68Q35.60,304.20 35.60,301.80Z" fill="#000" fill-opacity="1.0" filter="url(#b7)"/>
<path d="M51.30,301.75Q51.30,300.20 53.94,300.20H62.86Q65.50,300.20 65.50,301.75Q65.50,303.30 62.86,303.30H53.94Q51.30,303.30 51.30,301.75Z" fill="#000" fill-opacity="1.0" filter="url(#b7)"/>
<path d="M67.80,301.25Q67.80,299.90 70.10,299.90H77.50Q79.80,299.90 79.80,301.25Q79.80,302.60 77.50,302.60H70.10Q67.80,302.60 67.80,301.25Z" fill="#000" fill-opacity="1.0" filter="url(#b7)"/>
<path d="M84.20,301.40Q84.20,299.90 86.75,299.90H95.95Q98.50,299.90 98.50,301.40Q98.50,302.90 95.95,302.90H86.75Q84.20,302.90 84.20,301.40Z" fill="#000" fill-opacity="1.0" filter="url(#b7)"/>
<path d="M67.80,306.35Q67.80,304.90 70.27,304.90H77.53Q80.00,304.90 80.00,306.35Q80.00,307.80 77.53,307.80H70.27Q67.80,307.80 67.80,306.35Z" fill="#000" fill-opacity="1.0" filter="url(#b7)"/>
<path d="M84.20,306.55Q84.20,305.30 86.33,305.30H96.38Q98.50,305.30 98.50,306.55Q98.50,307.80 96.38,307.80H86.33Q84.20,307.80 84.20,306.55Z" fill="#000" fill-opacity="1.0" filter="url(#b7)"/>
<path d="M54.00,306.00Q54.00,305.50 54.85,305.50H59.15Q60.00,305.50 60.00,306.00Q60.00,306.50 59.15,306.50H54.85Q54.00,306.50 54.00,306.00Z" fill="#000" fill-opacity="0.25" filter="url(#b7)"/>
<path d="M1.00,313.15Q1.00,310.20 5.50,310.20H13.50Q18.00,310.20 18.00,313.15Q18.00,316.10 13.50,316.10H5.50Q1.00,316.10 1.00,313.15Z" fill="#000" fill-opacity="1.0" filter="url(#b7)"/>
<path d="M16.00,313.15Q16.00,310.20 20.50,310.20H29.50Q34.00,310.20 34.00,313.15Q34.00,316.10 29.50,316.10H20.50Q16.00,316.10 16.00,313.15Z" fill="#000" fill-opacity="1.0" filter="url(#b7)"/>
<path d="M32.00,313.15Q32.00,310.20 36.50,310.20H46.50Q51.00,310.20 51.00,313.15Q51.00,316.10 46.50,316.10H36.50Q32.00,316.10 32.00,313.15Z" fill="#000" fill-opacity="1.0" filter="url(#b7)"/>
<path d="M49.00,313.15Q49.00,310.20 53.50,310.20H62.50Q67.00,310.20 67.00,313.15Q67.00,316.10 62.50,316.10H53.50Q49.00,316.10 49.00,313.15Z" fill="#000" fill-opacity="1.0" filter="url(#b7)"/>
<path d="M65.50,313.15Q65.50,310.20 70.00,310.20H79.50Q84.00,310.20 84.00,313.15Q84.00,316.10 79.50,316.10H70.00Q65.50,316.10 65.50,313.15Z" fill="#000" fill-opacity="1.0" filter="url(#b7)"/>
<path d="M82.00,313.15Q82.00,310.20 86.50,310.20H95.10Q99.60,310.20 99.60,313.15Q99.60,316.10 95.10,316.10H86.50Q82.00,316.10 82.00,313.15Z" fill="#000" fill-opacity="1.0" filter="url(#b7)"/>
<rect x="6.0" y="310.9" width="88.0" height="4.5" rx="2.0" ry="2.0" fill="#000" fill-opacity="1.0" filter="url(#b7)"/>
<path d="M109.40,263.55Q109.40,260.20 113.87,260.20H118.33Q122.80,260.20 122.80,263.55Q122.80,266.90 118.33,266.90H113.87Q109.40,266.90 109.40,263.55Z" fill="#000" fill-opacity="1.0" filter="url(#b7)"/>
<path d="M126.00,264.20Q126.00,262.00 129.74,262.00H134.66Q138.40,262.00 138.40,264.20Q138.40,266.40 134.66,266.40H129.74Q126.00,266.40 126.00,264.20Z" fill="#000" fill-opacity="1.0" filter="url(#b7)"/>
<path d="M142.80,264.05Q142.80,261.30 147.30,261.30H152.20Q156.70,261.30 156.70,264.05Q156.70,266.80 152.20,266.80H147.30Q142.80,266.80 142.80,264.05Z" fill="#000" fill-opacity="1.0" filter="url(#b7)"/>
<path d="M176.50,263.80Q176.50,263.00 177.86,263.00H184.24Q185.60,263.00 185.60,263.80Q185.60,264.60 184.24,264.60H177.86Q176.50,264.60 176.50,263.80Z" fill="#000" fill-opacity="0.2" filter="url(#b7)"/>
<path d="M108.00,276.15Q108.00,273.30 112.33,273.30H116.67Q121.00,273.30 121.00,276.15Q121.00,279.00 116.67,279.00H112.33Q108.00,279.00 108.00,276.15Z" fill="#000" fill-opacity="1.0" filter="url(#b7)"/>
<path d="M125.00,276.20Q125.00,273.80 129.00,273.80H133.00Q137.00,273.80 137.00,276.20Q137.00,278.60 133.00,278.60H129.00Q125.00,278.60 125.00,276.20Z" fill="#000" fill-opacity="1.0" filter="url(#b7)"/>
<path d="M144.00,276.75Q144.00,275.00 146.97,275.00H152.83Q155.80,275.00 155.80,276.75Q155.80,278.50 152.83,278.50H146.97Q144.00,278.50 144.00,276.75Z" fill="#000" fill-opacity="1.0" filter="url(#b7)"/>
<path d="M161.00,277.20Q161.00,276.20 162.70,276.20H171.00Q172.70,276.20 172.70,277.20Q172.70,278.20 171.00,278.20H162.70Q161.00,278.20 161.00,277.20Z" fill="#000" fill-opacity="0.9" filter="url(#b7)"/>
<path d="M107.70,289.40Q107.70,286.90 111.95,286.90H120.75Q125.00,286.90 125.00,289.40Q125.00,291.90 120.75,291.90H111.95Q107.70,291.90 107.70,289.40Z" fill="#000" fill-opacity="1.0" filter="url(#b7)"/>
<path d="M126.00,289.40Q126.00,288.00 128.38,288.00H135.12Q137.50,288.00 137.50,289.40Q137.50,290.80 135.12,290.80H128.38Q126.00,290.80 126.00,289.40Z" fill="#000" fill-opacity="1.0" filter="url(#b7)"/>
<path d="M141.30,289.30Q141.30,286.90 145.38,286.90H151.72Q155.80,286.90 155.80,289.30Q155.80,291.70 151.72,291.70H145.38Q141.30,291.70 141.30,289.30Z" fill="#000" fill-opacity="1.0" filter="url(#b7)"/>
<path d="M161.20,289.85Q161.20,288.70 163.16,288.70H168.54Q170.50,288.70 170.50,289.85Q170.50,291.00 168.54,291.00H163.16Q161.20,291.00 161.20,289.85Z" fill="#000" fill-opacity="1.0" filter="url(#b7)"/>
<path d="M175.50,289.65Q175.50,288.30 177.79,288.30H184.51Q186.80,288.30 186.80,289.65Q186.80,291.00 184.51,291.00H177.79Q175.50,291.00 175.50,289.65Z" fill="#000" fill-opacity="1.0" filter="url(#b7)"/>
<path d="M110.00,300.65Q110.00,298.00 114.50,298.00H119.00Q123.50,298.00 123.50,300.65Q123.50,303.30 119.00,303.30H114.50Q110.00,303.30 110.00,300.65Z" fill="#000" fill-opacity="1.0" filter="url(#b7)"/>
<path d="M125.00,300.70Q125.00,298.20 129.17,298.20H133.33Q137.50,298.20 137.50,300.70Q137.50,303.20 133.33,303.20H129.17Q125.00,303.20 125.00,300.70Z" fill="#000" fill-opacity="1.0" filter="url(#b7)"/>
<path d="M141.30,300.30Q141.30,299.00 143.51,299.00H154.49Q156.70,299.00 156.70,300.30Q156.70,301.60 154.49,301.60H143.51Q141.30,301.60 141.30,300.30Z" fill="#000" fill-opacity="1.0" filter="url(#b7)"/>
<path d="M161.00,299.70Q161.00,298.20 163.55,298.20H170.45Q173.00,298.20 173.00,299.70Q173.00,301.20 170.45,301.20H163.55Q161.00,301.20 161.00,299.70Z" fill="#000" fill-opacity="1.0" filter="url(#b7)"/>
<path d="M176.00,299.30Q176.00,297.80 178.55,297.80H183.95Q186.50,297.80 186.50,299.30Q186.50,300.80 183.95,300.80H178.55Q176.00,300.80 176.00,299.30Z" fill="#000" fill-opacity="1.0" filter="url(#b7)"/>
<path d="M161.30,304.90Q161.30,303.90 163.00,303.90H170.30Q172.00,303.90 172.00,304.90Q172.00,305.90 170.30,305.90H163.00Q161.30,305.90 161.30,304.90Z" fill="#000" fill-opacity="1.0" filter="url(#b7)"/>
<path d="M176.70,304.35Q176.70,303.10 178.82,303.10H184.68Q186.80,303.10 186.80,304.35Q186.80,305.60 184.68,305.60H178.82Q176.70,305.60 176.70,304.35Z" fill="#000" fill-opacity="1.0" filter="url(#b7)"/>
<path d="M191.50,304.10Q191.50,302.10 194.90,302.10H198.80Q202.20,302.10 202.20,304.10Q202.20,306.10 198.80,306.10H194.90Q191.50,306.10 191.50,304.10Z" fill="#000" fill-opacity="1.0" filter="url(#b7)"/>
<path d="M110.00,312.95Q110.00,310.10 114.27,310.10H118.53Q122.80,310.10 122.80,312.95Q122.80,315.80 118.53,315.80H114.27Q110.00,315.80 110.00,312.95Z" fill="#000" fill-opacity="1.0" filter="url(#b7)"/>
<path d="M125.50,313.30Q125.50,310.40 130.00,310.40H134.60Q139.10,310.40 139.10,313.30Q139.10,316.20 134.60,316.20H130.00Q125.50,316.20 125.50,313.30Z" fill="#000" fill-opacity="1.0" filter="url(#b7)"/>
<path d="M141.30,313.25Q141.30,310.00 145.80,310.00H151.50Q156.00,310.00 156.00,313.25Q156.00,316.50 151.50,316.50H145.80Q141.30,316.50 141.30,313.25Z" fill="#000" fill-opacity="1.0" filter="url(#b7)"/>
<path d="M161.30,314.05Q161.30,311.20 165.43,311.20H169.57Q173.70,311.20 173.70,314.05Q173.70,316.90 169.57,316.90H165.43Q161.30,316.90 161.30,314.05Z" fill="#000" fill-opacity="1.0" filter="url(#b7)"/>
<path d="M176.70,314.05Q176.70,311.20 181.03,311.20H185.37Q189.70,311.20 189.70,314.05Q189.70,316.90 185.37,316.90H181.03Q176.70,316.90 176.70,314.05Z" fill="#000" fill-opacity="1.0" filter="url(#b7)"/>
<path d="M192.10,313.95Q192.10,311.00 196.60,311.00H201.30Q205.80,311.00 205.80,313.95Q205.80,316.90 201.30,316.90H196.60Q192.10,316.90 192.10,313.95Z" fill="#000" fill-opacity="1.0" filter="url(#b7)"/>
<path d="M291.90,247.65Q291.90,245.80 295.04,245.80H311.06Q314.20,245.80 314.20,247.65Q314.20,249.50 311.06,249.50H295.04Q291.90,249.50 291.90,247.65Z" fill="#000" fill-opacity="1.0" filter="url(#b7)"/>
<path d="M317.30,247.40Q317.30,246.20 319.34,246.20H335.96Q338.00,246.20 338.00,247.40Q338.00,248.60 335.96,248.60H319.34Q317.30,248.60 317.30,247.40Z" fill="#000" fill-opacity="1.0" filter="url(#b7)"/>
<path d="M344.20,247.05Q344.20,244.60 348.37,244.60H359.33Q363.50,244.60 363.50,247.05Q363.50,249.50 359.33,249.50H348.37Q344.20,249.50 344.20,247.05Z" fill="#000" fill-opacity="1.0" filter="url(#b7)"/>
<path d="M369.60,247.55Q369.60,246.20 371.90,246.20H386.50Q388.80,246.20 388.80,247.55Q388.80,248.90 386.50,248.90H371.90Q369.60,248.90 369.60,247.55Z" fill="#000" fill-opacity="1.0" filter="url(#b7)"/>
<path d="M393.50,247.45Q393.50,245.40 396.99,245.40H406.51Q410.00,245.40 410.00,247.45Q410.00,249.50 406.51,249.50H396.99Q393.50,249.50 393.50,247.45Z" fill="#000" fill-opacity="1.0" filter="url(#b7)"/>
<path d="M416.50,246.65Q416.50,245.30 418.80,245.30H432.00Q434.30,245.30 434.30,246.65Q434.30,248.00 432.00,248.00H418.80Q416.50,248.00 416.50,246.65Z" fill="#000" fill-opacity="1.0" filter="url(#b7)"/>
<path d="M290.40,260.75Q290.40,256.90 294.90,256.90H309.70Q314.20,256.90 314.20,260.75Q314.20,264.60 309.70,264.60H294.90Q290.40,264.60 290.40,260.75Z" fill="#000" fill-opacity="1.0" filter="url(#b7)"/>
<path d="M316.50,260.40Q316.50,257.20 321.00,257.20H332.00Q336.50,257.20 336.50,260.40Q336.50,263.60 332.00,263.60H321.00Q316.50,263.60 316.50,260.40Z" fill="#000" fill-opacity="1.0" filter="url(#b7)"/>
<path d="M341.00,260.00Q341.00,255.40 345.50,255.40H360.50Q365.00,255.40 365.00,260.00Q365.00,264.60 360.50,264.60H345.50Q341.00,264.60 341.00,260.00Z" fill="#000" fill-opacity="1.0" filter="url(#b7)"/>
<path d="M368.80,259.50Q368.80,256.00 373.30,256.00H387.50Q392.00,256.00 392.00,259.50Q392.00,263.00 387.50,263.00H373.30Q368.80,263.00 368.80,259.50Z" fill="#000" fill-opacity="1.0" filter="url(#b7)"/>
<path d="M395.00,258.65Q395.00,255.00 399.50,255.00H409.70Q414.20,255.00 414.20,258.65Q414.20,262.30 409.70,262.30H399.50Q395.00,262.30 395.00,258.65Z" fill="#000" fill-opacity="1.0" filter="url(#b7)"/>
<path d="M419.00,258.00Q419.00,254.80 423.50,254.80H431.90Q436.40,254.80 436.40,258.00Q436.40,261.20 431.90,261.20H423.50Q419.00,261.20 419.00,258.00Z" fill="#000" fill-opacity="1.0" filter="url(#b7)"/>
<path d="M293.50,274.35Q293.50,273.00 295.80,273.00H312.70Q315.00,273.00 315.00,274.35Q315.00,275.70 312.70,275.70H295.80Q293.50,275.70 293.50,274.35Z" fill="#000" fill-opacity="1.0" filter="url(#b7)"/>
<path d="M320.00,273.50Q320.00,272.80 321.19,272.80H337.81Q339.00,272.80 339.00,273.50Q339.00,274.20 337.81,274.20H321.19Q320.00,274.20 320.00,273.50Z" fill="#000" fill-opacity="0.4" filter="url(#b7)"/>
<path d="M318.00,279.25Q318.00,277.70 320.63,277.70H336.97Q339.60,277.70 339.60,279.25Q339.60,280.80 336.97,280.80H320.63Q318.00,280.80 318.00,279.25Z" fill="#000" fill-opacity="1.0" filter="url(#b7)"/>
<path d="M342.70,273.10Q342.70,270.80 346.61,270.80H359.59Q363.50,270.80 363.50,273.10Q363.50,275.40 359.59,275.40H346.61Q342.70,275.40 342.70,273.10Z" fill="#000" fill-opacity="1.0" filter="url(#b7)"/>
<path d="M343.50,279.00Q343.50,278.00 345.20,278.00H360.30Q362.00,278.00 362.00,279.00Q362.00,280.00 360.30,280.00H345.20Q343.50,280.00 343.50,279.00Z" fill="#000" fill-opacity="1.0" filter="url(#b7)"/>
<path d="M366.50,271.90Q366.50,270.00 369.73,270.00H385.57Q388.80,270.00 388.80,271.90Q388.80,273.80 385.57,273.80H369.73Q366.50,273.80 366.50,271.90Z" fill="#000" fill-opacity="1.0" filter="url(#b7)"/>
<path d="M368.00,276.75Q368.00,275.00 370.98,275.00H385.82Q388.80,275.00 388.80,276.75Q388.80,278.50 385.82,278.50H370.98Q368.00,278.50 368.00,276.75Z" fill="#000" fill-opacity="1.0" filter="url(#b7)"/>
<path d="M392.00,271.10Q392.00,269.20 395.23,269.20H408.77Q412.00,269.20 412.00,271.10Q412.00,273.00 408.77,273.00H395.23Q392.00,273.00 392.00,271.10Z" fill="#000" fill-opacity="1.0" filter="url(#b7)"/>
<path d="M395.80,276.75Q395.80,275.80 397.41,275.80H407.99Q409.60,275.80 409.60,276.75Q409.60,277.70 407.99,277.70H397.41Q395.80,277.70 395.80,276.75Z" fill="#000" fill-opacity="1.0" filter="url(#b7)"/>
<path d="M415.00,271.00Q415.00,269.60 417.38,269.60H429.62Q432.00,269.60 432.00,271.00Q432.00,272.40 429.62,272.40H417.38Q415.00,272.40 415.00,271.00Z" fill="#000" fill-opacity="1.0" filter="url(#b7)"/>
<path d="M415.50,275.80Q415.50,274.40 417.88,274.40H430.62Q433.00,274.40 433.00,275.80Q433.00,277.20 430.62,277.20H417.88Q415.50,277.20 415.50,275.80Z" fill="#000" fill-opacity="1.0" filter="url(#b7)"/>
<rect x="292.5" y="288.8" width="48.0" height="8.3" rx="4.0" ry="4.0" fill="#000" fill-opacity="1.0" filter="url(#b7)"/>
<path d="M345.00,293.00Q345.00,289.00 349.50,289.00H363.10Q367.60,289.00 367.60,293.00Q367.60,297.00 363.10,297.00H349.50Q345.00,297.00 345.00,293.00Z" fill="#000" fill-opacity="1.0" filter="url(#b7)"/>
<path d="M369.00,292.85Q369.00,288.30 373.50,288.30H387.10Q391.60,288.30 391.60,292.85Q391.60,297.40 387.10,297.40H373.50Q369.00,297.40 369.00,292.85Z" fill="#000" fill-opacity="1.0" filter="url(#b7)"/>
<path d="M393.00,293.00Q393.00,289.50 397.50,289.50H411.10Q415.60,289.50 415.60,293.00Q415.60,296.50 411.10,296.50H397.50Q393.00,296.50 393.00,293.00Z" fill="#000" fill-opacity="1.0" filter="url(#b7)"/>
<path d="M417.00,292.30Q417.00,288.80 421.50,288.80H433.50Q438.00,288.80 438.00,292.30Q438.00,295.80 433.50,295.80H421.50Q417.00,295.80 417.00,292.30Z" fill="#000" fill-opacity="1.0" filter="url(#b7)"/>
<path d="M317.4,308.6C317.4,304.6 318.8,302.9 320.6,303.9C322,304.6 324,304.7 327,305.2L335.2,305.8A2.9,2.9 0 0 1 335.2,311.6L321.5,313.4C318.6,313.7 317.4,311.8 317.4,308.6Z" fill="#000" filter="url(#b6)"/>
<path d="M343.00,309.40Q343.00,306.00 347.50,306.00H356.80Q361.30,306.00 361.30,309.40Q361.30,312.80 356.80,312.80H347.50Q343.00,312.80 343.00,309.40Z" fill="#000" fill-opacity="1.0" filter="url(#b7)"/>
<ellipse cx="377" cy="309.6" rx="10" ry="5" fill="#000" filter="url(#b6)"/>
<path d="M391.50,310.00Q391.50,307.30 396.00,307.30H405.50Q410.00,307.30 410.00,310.00Q410.00,312.70 405.50,312.70H396.00Q391.50,312.70 391.50,310.00Z" fill="#000" fill-opacity="1.0" filter="url(#b7)"/>
<ellipse cx="423" cy="309.6" rx="14.3" ry="7.1" fill="#000" filter="url(#b6)"/>
<rect x="294.0" y="326.5" width="19.2" height="7.8" rx="2.0" ry="2.0" fill="#000" fill-opacity="1.0" filter="url(#b7)"/>
<rect x="316.5" y="325.7" width="21.0" height="7.1" rx="2.0" ry="2.0" fill="#000" fill-opacity="1.0" filter="url(#b7)"/>
<rect x="345.7" y="324.7" width="18.0" height="7.8" rx="2.0" ry="2.0" fill="#000" fill-opacity="1.0" filter="url(#b7)"/>
<rect x="369.9" y="323.4" width="17.3" height="8.3" rx="2.0" ry="2.0" fill="#000" fill-opacity="1.0" filter="url(#b7)"/>
<rect x="395.1" y="322.3" width="18.2" height="9.4" rx="2.0" ry="2.0" fill="#000" fill-opacity="1.0" filter="url(#b7)"/>
<rect x="419.6" y="322.3" width="20.4" height="7.0" rx="2.0" ry="2.0" fill="#000" fill-opacity="1.0" filter="url(#b7)"/>
</g>
</svg>
</body></html>
